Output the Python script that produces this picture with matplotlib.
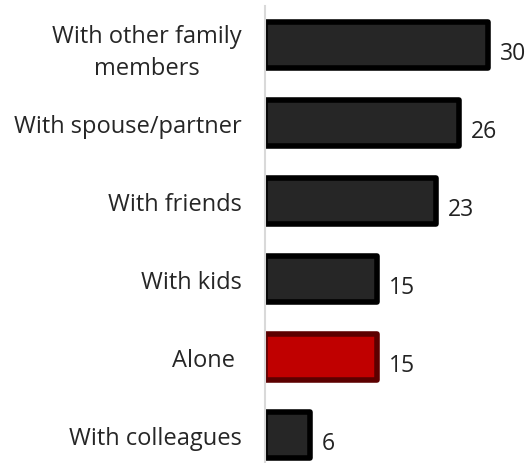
import numpy as np
import matplotlib.pyplot as plt

categories = ['With other family\nmembers', 'With spouse/partner', 'With friends',
              'With kids', 'Alone ', 'With colleagues']
values = [30, 26, 23, 15, 15, 6]
highlight = 'Alone '

plt.rcParams['font.family'] = ['Open Sans', 'DejaVu Sans']

fig = plt.figure(figsize=(5.3, 4.64), dpi=100)
ax = fig.add_axes([0.5, 0.0, 0.5, 0.985])

y = np.arange(len(categories))
faces = ['#c00000' if c == highlight else '#262626' for c in categories]
edges = ['#5c0000' if c == highlight else '#000000' for c in categories]
ax.barh(y, values, height=0.58, color=faces, edgecolor=edges, linewidth=4,
        joinstyle='round')

for yi, v in zip(y, values):
    ax.text(v + 1.6, yi + 0.1, str(v), va='center', ha='left',
            fontsize=16.5, color='#222222')

ax.set_xlim(0, 35.6)
ax.set_ylim(5.36, -0.5)
ax.set_yticks(y)
ax.set_yticklabels(categories, fontsize=17, color='#262626', ha='right',
                   multialignment='center', linespacing=1.45)
ax.tick_params(axis='y', length=0, pad=17)
ax.set_xticks([])
for side in ['top', 'right', 'bottom']:
    ax.spines[side].set_visible(False)
ax.spines['left'].set_color('#d9d9d9')
ax.spines['left'].set_linewidth(1.5)

fig.savefig('out.png', dpi=100)
